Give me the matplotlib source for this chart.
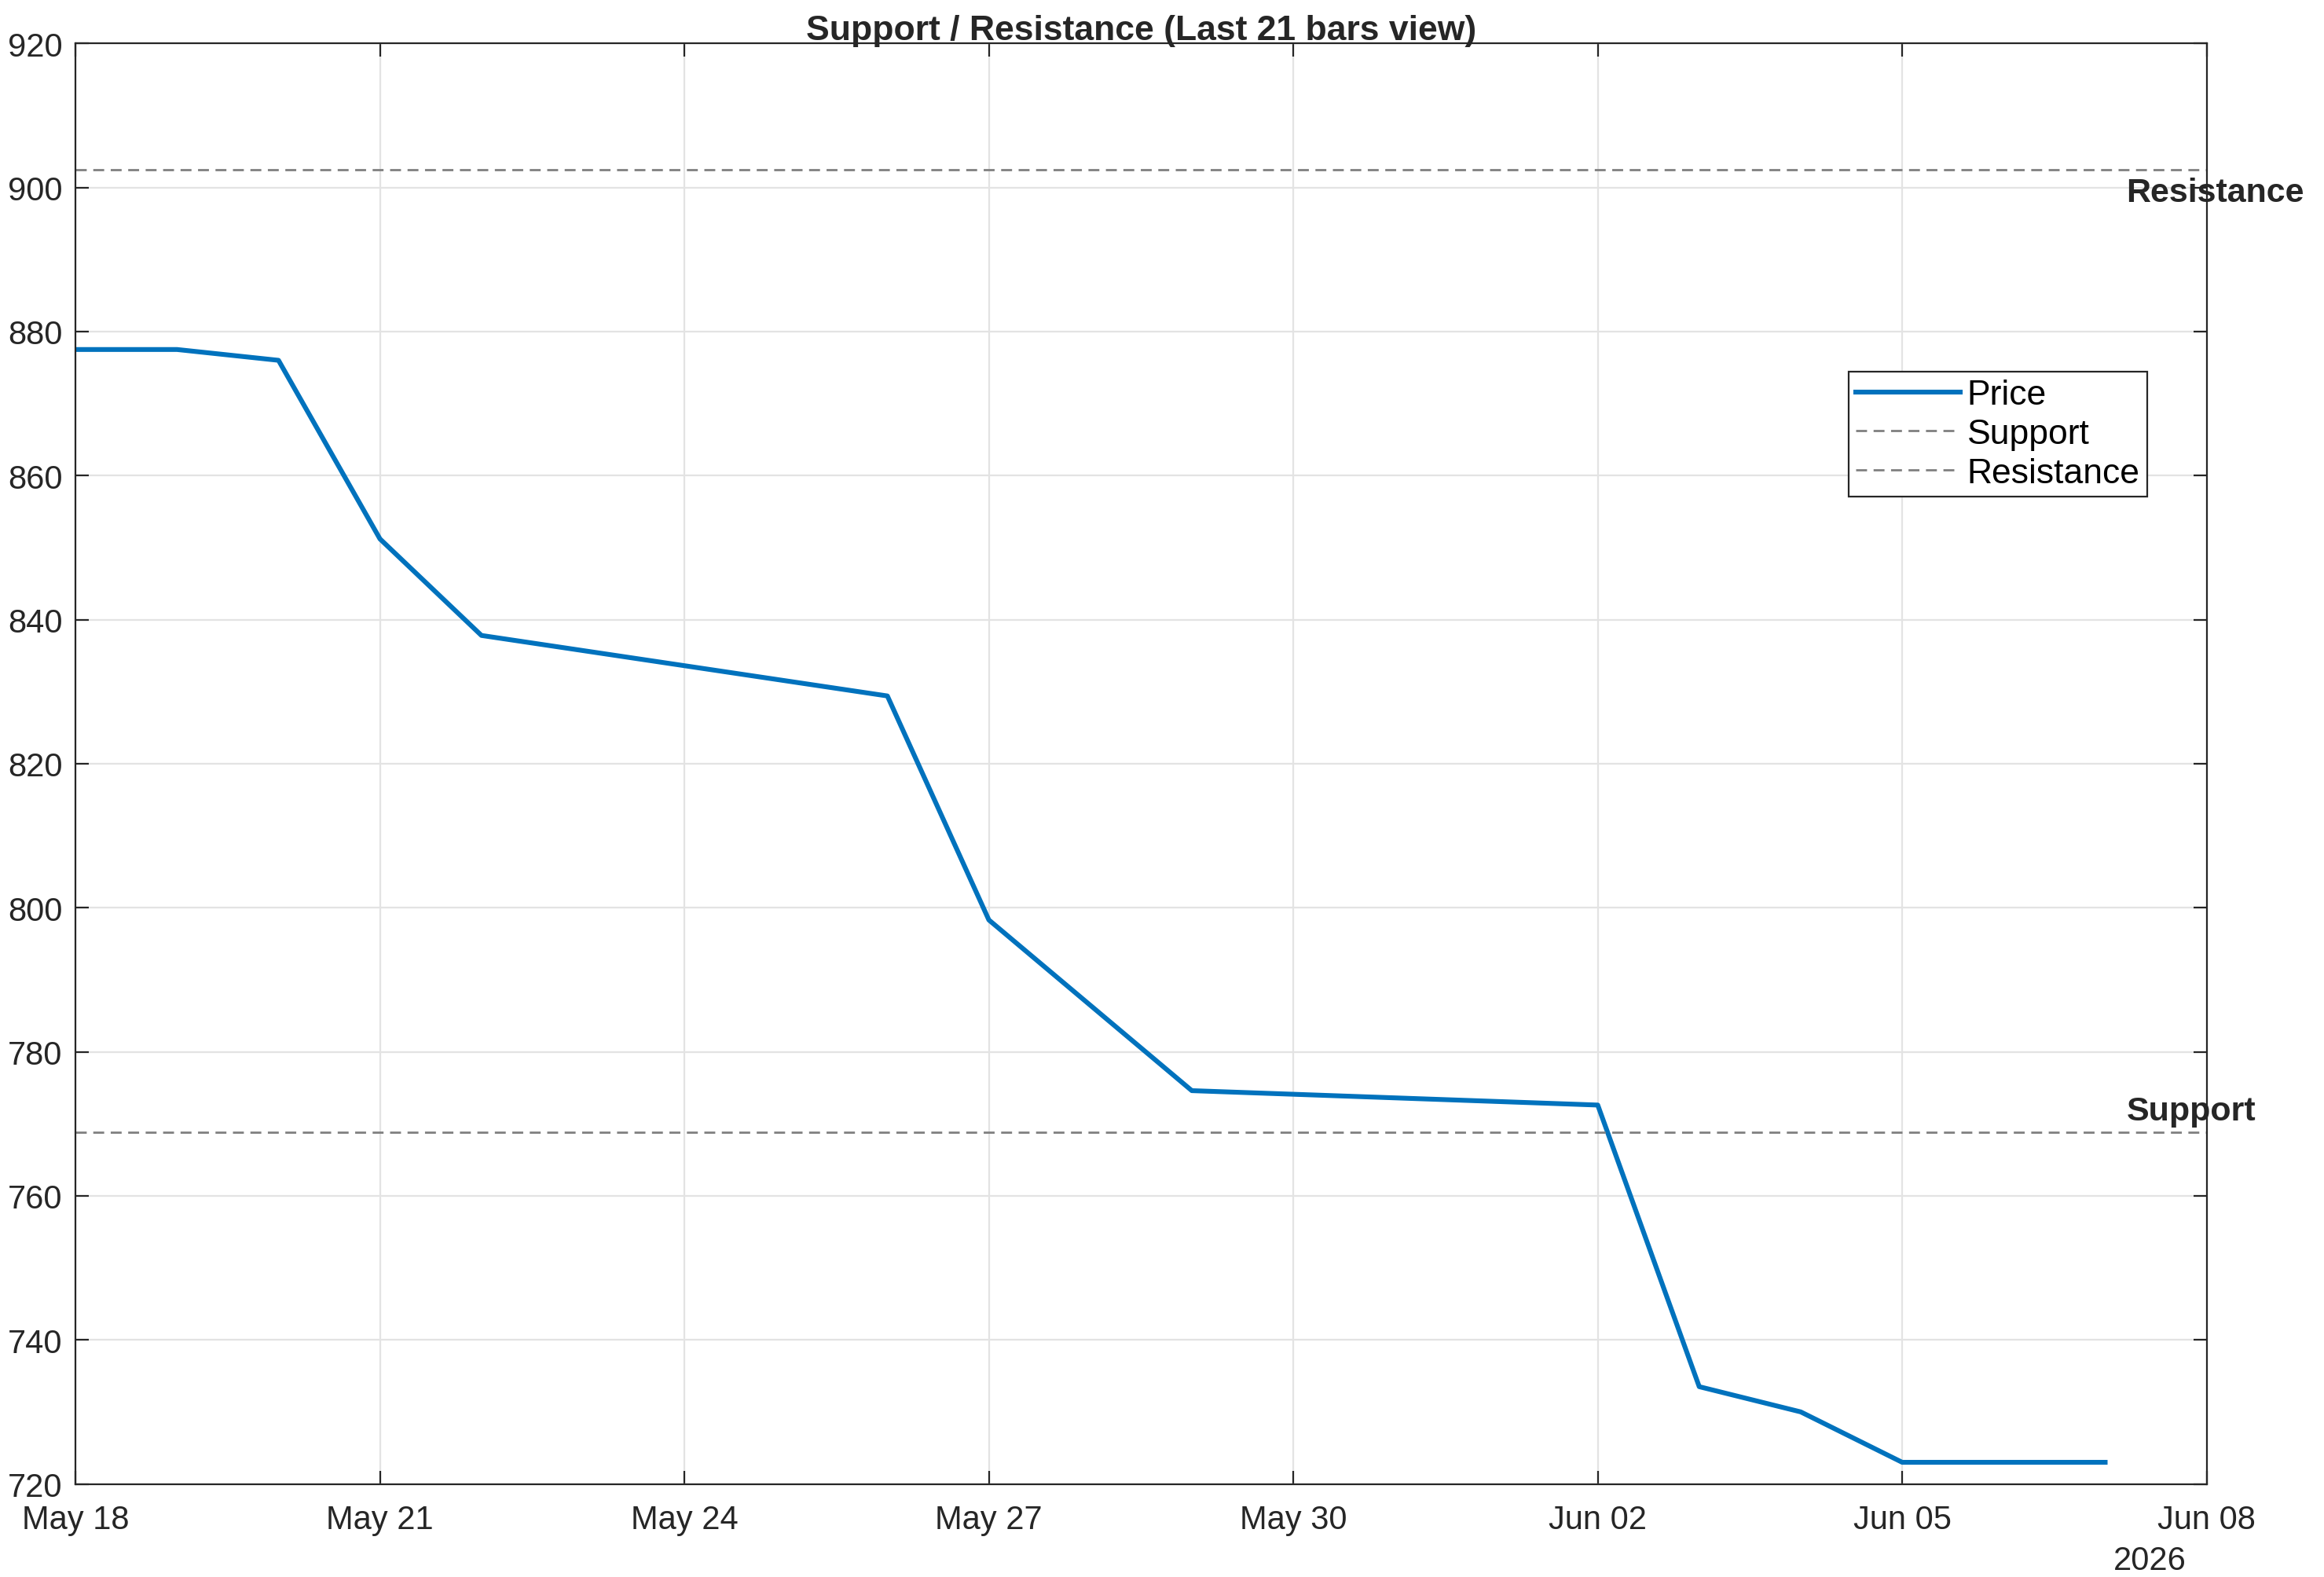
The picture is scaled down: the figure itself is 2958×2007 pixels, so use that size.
import matplotlib
matplotlib.use("Agg")
import matplotlib.pyplot as plt
import numpy as np
from datetime import datetime

plt.rcParams['font.family'] = ['Liberation Sans', 'DejaVu Sans']

dates = ["2026-05-18","2026-05-19","2026-05-20","2026-05-21","2026-05-22","2026-05-26",
         "2026-05-27","2026-05-29","2026-06-02","2026-06-03","2026-06-04","2026-06-05","2026-06-07"]
prices = [877.5, 877.5, 876.0, 851.2, 837.8, 829.4, 798.3, 774.6, 772.6, 733.5, 730.0, 723.0, 723.0]
support = 768.8
resistance = 902.5
tick_dates = ["2026-05-18","2026-05-21","2026-05-24","2026-05-27","2026-05-30","2026-06-02","2026-06-05","2026-06-08"]
tick_labels = ["May 18","May 21","May 24","May 27","May 30","Jun 02","Jun 05","Jun 08"]

x = [datetime.fromisoformat(d) for d in dates]
fig = plt.figure(figsize=(14.79, 10.04), dpi=200)
ax = fig.add_axes([0.0325, 0.059, 0.917, 0.913])
ax.plot(x, prices, color='#0072BD', lw=2.2, label='Price')
ax.axhline(support, color='#808080', ls='--', lw=1.0, dashes=(5, 3), label='Support')
ax.axhline(resistance, color='#808080', ls='--', lw=1.0, dashes=(5, 3), label='Resistance')
ax.set_xlim(datetime(2026,5,18), datetime(2026,6,8))
ax.set_ylim(720, 920)
ax.set_yticks(np.arange(720, 921, 20))
ax.set_xticks([datetime.fromisoformat(d) for d in tick_dates])
ax.set_xticklabels(tick_labels)
ax.tick_params(direction='in', top=True, right=True, labelsize=15, colors='#262626', length=6)
ax.tick_params(axis='x', pad=9)
ax.tick_params(axis='y', pad=6)
ax.grid(True, color='#e3e3e3', lw=0.8)
for s in ax.spines.values():
    s.set_color('#262626'); s.set_linewidth(0.8)
ax.set_title('Support / Resistance (Last 21 bars view)', fontsize=16, fontweight='bold', color='#262626', pad=2)
xt = datetime(2026,6,7,5)
ax.text(xt, resistance - 1.0, 'Resistance', fontsize=15.5, fontweight='bold', va='top', ha='left', clip_on=False, color='#262626')
ax.text(xt, support + 0.8, 'Support', fontsize=15.5, fontweight='bold', va='bottom', ha='left', clip_on=False, color='#262626')
ax.text(0.9735, -0.042, '2026', transform=ax.transAxes, fontsize=15, ha='center', va='top', color='#262626')
leg = ax.legend(loc='upper right', bbox_to_anchor=(0.972, 0.772), fontsize=16, fancybox=False,
                edgecolor='#262626', framealpha=1, borderpad=0.2, handlelength=3.0, labelspacing=0.2,
                handletextpad=0.2, borderaxespad=0)
leg.get_frame().set_linewidth(0.8)
fig.savefig('out.png', dpi=200)
